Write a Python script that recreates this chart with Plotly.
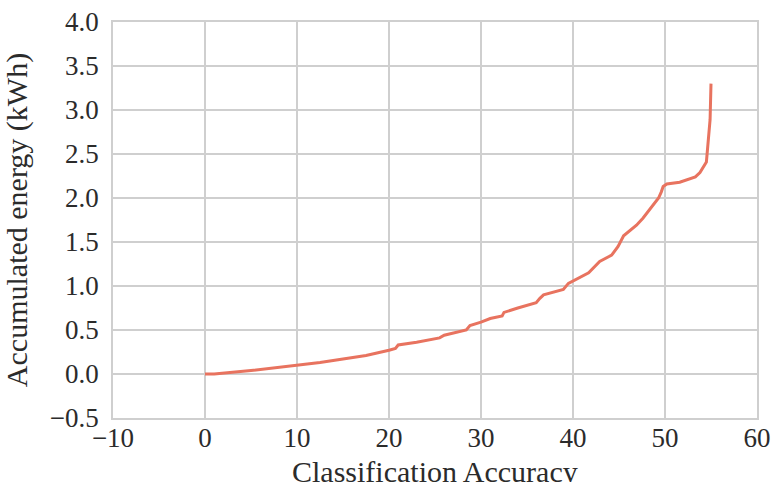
import plotly.graph_objects as go

accuracy = [0.0, 1.0, 5.0, 10.0, 12.5, 15.0, 17.5, 20.0, 20.7, 21.0, 23.0, 25.5, 26.0, 28.4, 28.8, 30.0, 31.0,
            32.3, 32.5, 34.0, 36.0, 36.4, 36.8, 38.95, 39.5, 41.7, 42.9, 44.2, 44.9, 45.5, 46.9, 47.6,
            48.55, 49.3, 49.6, 49.8, 50.2, 51.6, 53.3, 53.8, 54.5, 54.7, 54.9, 55.0]
energy = [0.0, 0.0, 0.04, 0.10, 0.13, 0.17, 0.21, 0.27, 0.29, 0.33, 0.36, 0.41, 0.44, 0.50, 0.55, 0.59, 0.63,
          0.66, 0.70, 0.75, 0.81, 0.86, 0.90, 0.96, 1.03, 1.15, 1.28, 1.35, 1.45, 1.57, 1.69, 1.77,
          1.90, 2.00, 2.07, 2.13, 2.16, 2.18, 2.24, 2.29, 2.41, 2.64, 2.89, 3.30]

x_ticks = [-10, 0, 10, 20, 30, 40, 50, 60]
x_ticklabels = ["−10", "0", "10", "20", "30", "40", "50", "60"]
y_ticks = [-0.5, 0.0, 0.5, 1.0, 1.5, 2.0, 2.5, 3.0, 3.5, 4.0]
y_ticklabels = ["−0.5", "0.0", "0.5", "1.0", "1.5", "2.0", "2.5", "3.0", "3.5", "4.0"]
x_title = "Classification Accuracy"
y_title = "Accumulated energy (kWh)"

font_family = "Liberation Serif, DejaVu Serif, serif"
grid = "#cfcfcf"

fig = go.Figure()
fig.add_trace(go.Scatter(x=accuracy, y=energy, mode="lines",
                         line=dict(color="#e8735f", width=3), showlegend=False))

fig.update_layout(
    width=773, height=482,
    margin=dict(l=113, r=16, t=22, b=64),
    paper_bgcolor="white", plot_bgcolor="white",
    font=dict(family=font_family, size=27, color="#2b2b2b"),
)
fig.update_xaxes(range=[-10, 60], tickvals=x_ticks, ticktext=x_ticklabels,
                 showgrid=True, gridcolor=grid, gridwidth=1.5,
                 showline=True, linecolor=grid, linewidth=1.5, mirror=True,
                 zeroline=False, ticks="", tickfont=dict(size=27), automargin=False,
                 ticklabelstandoff=-5)
fig.update_yaxes(range=[-0.5, 4.0], tickvals=y_ticks, ticktext=y_ticklabels,
                 showgrid=True, gridcolor=grid, gridwidth=1.5,
                 showline=True, linecolor=grid, linewidth=1.5, mirror=True,
                 zeroline=False, ticks="", tickfont=dict(size=27), automargin=False,
                 ticklabelstandoff=7,
                 title=dict(text=y_title, font=dict(size=30), standoff=20))
fig.add_annotation(text=x_title, xref="paper", yref="paper", x=0.5, y=0,
                   xanchor="center", yanchor="middle", yshift=-53, showarrow=False,
                   font=dict(size=30, family=font_family, color="#2b2b2b"))

fig.write_html("out.html", post_script="document.body.style.margin='0';",
               config={"displayModeBar": False})
